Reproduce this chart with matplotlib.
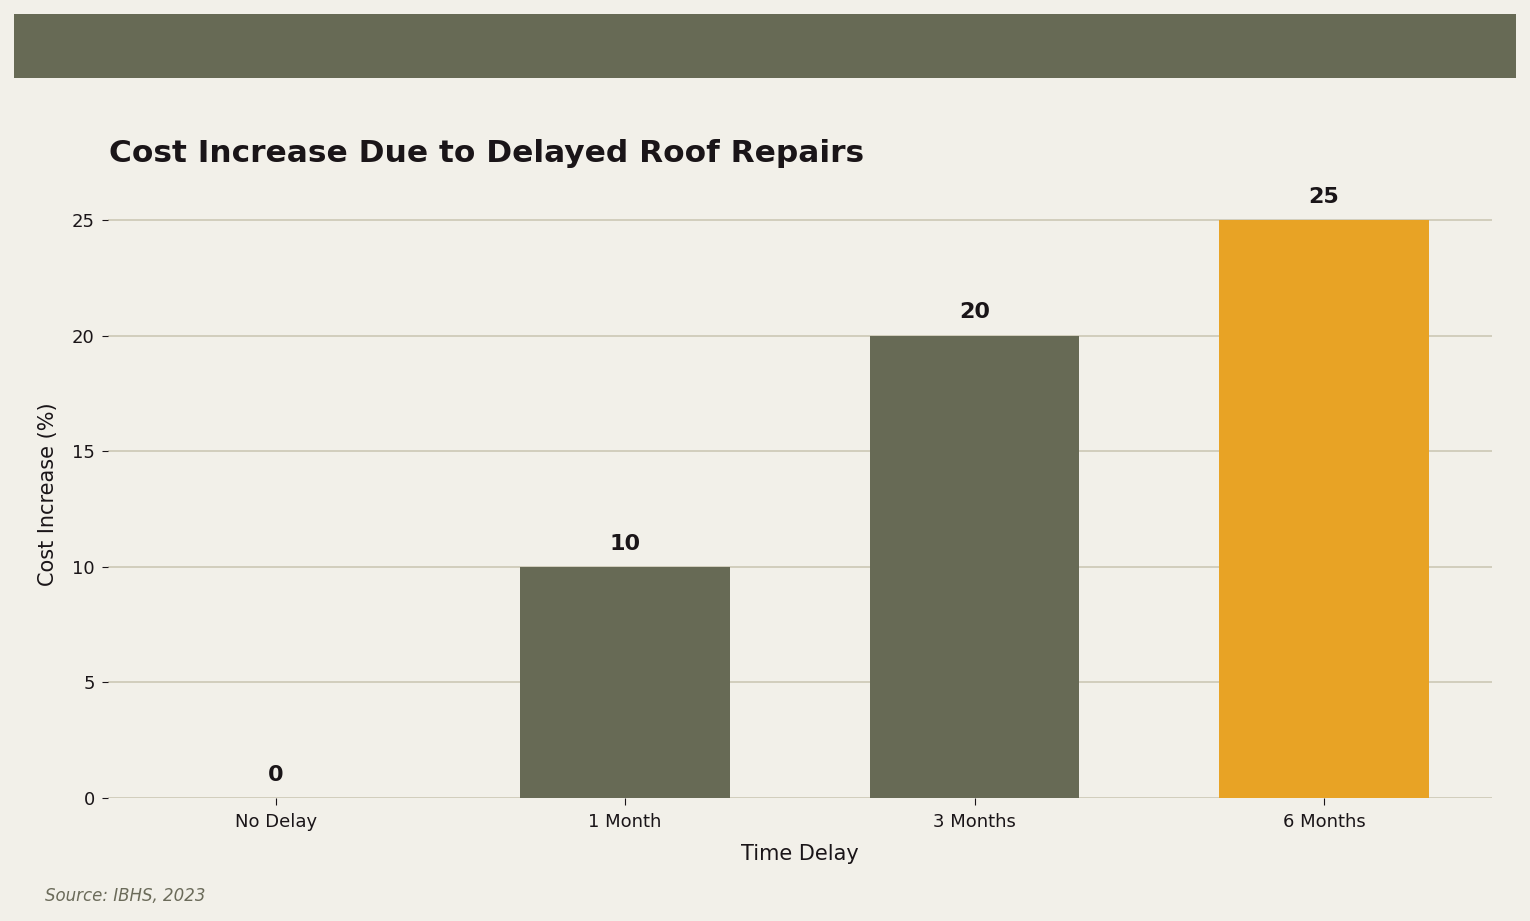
import matplotlib
matplotlib.use('Agg')
import matplotlib.pyplot as plt
from matplotlib.patches import Rectangle

plt.rcParams['font.family'] = ['DejaVu Sans']

categories = ['No Delay', '1 Month', '3 Months', '6 Months']
cost_increase = [0, 10, 20, 25]
bar_colors = ['#676a55', '#676a55', '#676a55', '#e8a325']
yticks = [0, 5, 10, 15, 20, 25]

bg = '#f2f0e9'
dark = '#1a1518'

fig = plt.figure(figsize=(15.3, 9.21), dpi=100, facecolor=bg)
ax = fig.add_axes([0.0706, 0.1336, 0.9044, 0.659])
ax.set_facecolor(bg)

# header band
fig.patches.append(Rectangle((14 / 1530, 1 - 78 / 921), 1502 / 1530, 64 / 921,
                             transform=fig.transFigure, facecolor='#676a55',
                             edgecolor='none', zorder=0))

x = range(len(categories))
ax.bar(x, cost_increase, width=0.6, color=bar_colors, zorder=3)
for i, v in zip(x, cost_increase):
    ax.annotate(str(v), (i, v), xytext=(0, 9.5), textcoords='offset points',
                ha='center', va='bottom', fontsize=16, fontweight='bold', color=dark)

ax.set_xticks(list(x))
ax.set_xticklabels(categories, fontsize=13, color=dark)
ax.set_yticks(yticks)
ax.tick_params(axis='y', labelsize=13, colors=dark, length=4.5, pad=5)
ax.tick_params(axis='x', colors=dark, length=5, pad=6)
ax.set_ylim(0, 26.25)
ax.set_xlim(-0.48, 3.48)
ax.grid(axis='y', color='#cfcbb9', linewidth=1.3, zorder=0)
for s in ax.spines.values():
    s.set_visible(False)

ax.set_xlabel('Time Delay', fontsize=15, color=dark, labelpad=9)
ax.set_ylabel('Cost Increase (%)', fontsize=15, color=dark, labelpad=10)

fig.text(109 / 1530, 1 - 153 / 921, 'Cost Increase Due to Delayed Roof Repairs',
         fontsize=22.5, fontweight='bold', color=dark, va='center', ha='left')
fig.text(45 / 1530, 1 - 896 / 921, 'Source: IBHS, 2023', fontsize=12,
         style='italic', color='#6b6b5a', va='center', ha='left')

fig.savefig('out.png', dpi=100, facecolor=bg)
